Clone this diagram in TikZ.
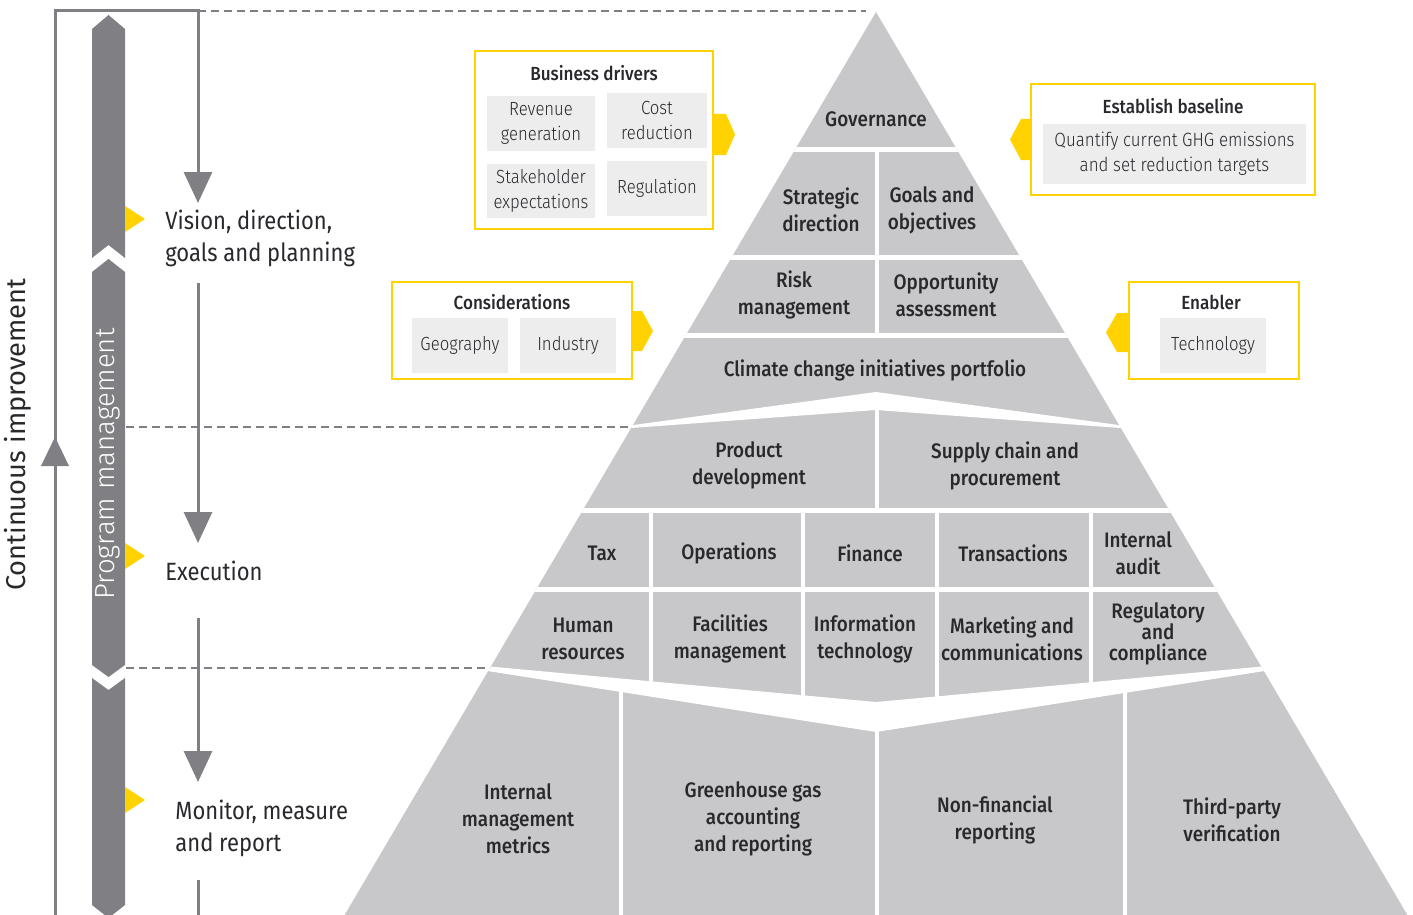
\documentclass[tikz,border=0pt]{standalone}
\usepackage{fontspec}
\setmainfont{Fira Sans}[FakeStretch=0.88]
\newfontfamily\medfont{Fira Sans Medium}[FakeStretch=0.9]
\newfontfamily\lightfont{Fira Sans Light}[FakeStretch=0.88]
\newfontfamily\lightplain{Fira Sans Light}
\newfontfamily\regplain{Fira Sans}
\usetikzlibrary{arrows.meta}
\definecolor{pyr}{RGB}{200,200,202}
\definecolor{barc}{RGB}{128,127,132}
\definecolor{eyy}{RGB}{255,210,0}
\definecolor{inbox}{RGB}{237,237,237}
\definecolor{txt}{RGB}{40,40,45}
\begin{document}
\begin{tikzpicture}[x=0.5pt,y=-0.5pt,
  pt/.style={font=\medfont\fontsize{10.5}{13.5}\selectfont, text=txt, align=center, inner sep=0pt},
  lbl/.style={font=\fontsize{12.5}{16}\selectfont, text=txt, align=left, anchor=west, inner sep=0pt},
  btitle/.style={font=\medfont\fontsize{9.5}{12}\selectfont, text=txt, inner sep=0pt},
  gbox/.style={fill=inbox, align=center, font=\lightfont\fontsize{9.5}{12.2}\selectfont, text=txt, inner sep=0pt},
  ybox/.style={draw=eyy, line width=1.25pt, fill=white, inner sep=0pt},
  frame/.style={draw=barc, line width=1.5pt},
  arr/.style={-{Triangle[width=14pt,length=15.5pt]}},
  dashln/.style={draw=barc, line width=1.1pt, dash pattern=on 4pt off 2.5pt},
  tab/.style={fill=eyy},
]
\useasboundingbox (0,0) rectangle (1413,915);

% ---------- pyramid ----------
\begin{scope}
\clip (876,12) -- (1408,916) -- (344,916) -- cycle;
\fill[pyr] (0,0) rectangle (1413,916);
\fill[white] (500,147) rectangle (1250,152);
\fill[white] (500,255) rectangle (1250,260);
\fill[white] (500,333.3) rectangle (1250,337.7);
\fill[white] (875,147) rectangle (879,338);
\fill[white] (588,431.2) -- (876,392) -- (1164,431.2) -- (876,410) -- cycle;
\fill[white] (875,405) rectangle (879,512);
\fill[white] (400,508) rectangle (1350,513);
\fill[white] (400,587) rectangle (1350,592);
\fill[white] (649,508) rectangle (653,690);
\fill[white] (801,508) rectangle (805,708);
\fill[white] (935,508) rectangle (939,709);
\fill[white] (1089,508) rectangle (1093,690);
\fill[white] (415,659.6) -- (876,702) -- (1337,659.6) -- (876,732) -- cycle;
\fill[white] (619,685) rectangle (623,916);
\fill[white] (875,725) rectangle (879,916);
\fill[white] (1123,685) rectangle (1127,916);
\end{scope}

% pyramid texts
\node[pt] (gov) at (876,119) {Governance};
\node[pt] (strat) at (821,210) {Strategic\\direction};
\node[pt] (goals) at (932,210) {Goals and\\objectives};
\node[pt] (risk) at (794,295) {Risk\\management};
\node[pt] (opp) at (946,295) {Opportunity\\assessment};
\node[pt] (cci) at (875,370) {Climate change initiatives portfolio};
\node[pt] (prod) at (749,465.5) {Product\\development};
\node[pt] (supply) at (1005,465.5) {Supply chain and\\procurement};
\node[pt] (tax) at (602,553) {Tax};
\node[pt] (ops) at (729,553) {Operations};
\node[pt] (fin) at (870,553) {Finance};
\node[pt] (trans) at (1013,553) {Transactions};
\node[pt] (audit) at (1138,553.5) {Internal\\audit};
\node[pt] (hr) at (583,638.5) {Human\\resources};
\node[pt] (fac) at (730,638.5) {Facilities\\management};
\node[pt] (it) at (865,638.5) {Information\\technology};
\node[pt] (mkt) at (1012,638.5) {Marketing and\\communications};
\node[pt, font=\medfont\fontsize{10.5}{10.5}\selectfont] (regc) at (1158,634) {Regulatory\\and\\compliance};
\node[pt] (imm) at (518,819) {Internal\\management\\metrics};
\node[pt] (ghg) at (753,819) {Greenhouse gas\\accounting\\and reporting};
\node[pt] (nonfin) at (995,819.5) {Non-financial\\reporting};
\node[pt] (third) at (1232,819.5) {Third-party\\verification};

% ---------- boxes ----------
% Business drivers
\fill[tab] (713,114) -- (726,114) -- (735,134.5) -- (726,155) -- (713,155) -- cycle;
\node[ybox, minimum width=119pt, minimum height=89pt] (bd) at (594,140) {};
\node[btitle] (bdt) at (594,73) {Business drivers};
\node[gbox, minimum width=54pt, minimum height=27.5pt] (rev) at (541,123.5) {Revenue\\generation};
\node[gbox, minimum width=50pt, minimum height=27.5pt] (cost) at (657,120.5) {Cost\\reduction};
\node[gbox, minimum width=54pt, minimum height=27pt] (stake) at (541,191) {Stakeholder\\expectations};
\node[gbox, minimum width=50pt, minimum height=27.5pt] (reg) at (657,188.5) {Regulation};

% Establish baseline
\fill[tab] (1031,119) -- (1021,119) -- (1010,139.5) -- (1021,160) -- (1031,160) -- cycle;
\node[ybox, minimum width=142pt, minimum height=55.5pt] (est) at (1173,139.5) {};
\node[btitle] (estt) at (1173,106) {Establish baseline};
\node[gbox, minimum width=131.5pt, minimum height=30pt, font=\lightfont\fontsize{9.6}{12.6}\selectfont] (quant) at (1174.5,154) {Quantify current GHG emissions\\and set reduction targets};

% Considerations
\fill[tab] (632,311) -- (642,311) -- (653,331) -- (642,351) -- (632,351) -- cycle;
\node[ybox, minimum width=120pt, minimum height=48.5pt] (cons) at (512,330.5) {};
\node[btitle] (const) at (512,302) {Considerations};
\node[gbox, minimum width=48pt, minimum height=27.5pt] (geo) at (460,345.5) {Geography};
\node[gbox, minimum width=48pt, minimum height=27.5pt] (ind) at (568,345.5) {Industry};

% Enabler
\fill[tab] (1129,313) -- (1117,313) -- (1106,332.5) -- (1117,352) -- (1129,352) -- cycle;
\node[ybox, minimum width=85pt, minimum height=48.5pt] (enab) at (1214,330.5) {};
\node[btitle] (enabt) at (1211,302) {Enabler};
\node[gbox, minimum width=53pt, minimum height=27.5pt] (tech) at (1213,345.5) {Technology};

% ---------- left side ----------
\coordinate (fbot) at (55,916);
\coordinate (ftl) at (55,11);
\coordinate (ftr) at (198,11);
\coordinate (a1) at (198,203);
\coordinate (a2s) at (198,283);
\coordinate (a2e) at (198,543);
\coordinate (a3s) at (198,618);
\coordinate (a3e) at (198,782);
\coordinate (a4s) at (198,880);
\coordinate (a4e) at (198,916);
\coordinate (dtop) at (866,11);
\coordinate (d1a) at (126,427);
\coordinate (d1b) at (630,427);
\coordinate (d2a) at (126,668);
\coordinate (d2b) at (490,668);

\draw[dashln] (ftr) -- (dtop);
\draw[dashln] (d1a) -- (d1b);
\draw[dashln] (d2a) -- (d2b);

\draw[frame, arr, line join=miter] (fbot) -- (ftl) -- (ftr) -- (a1);
\draw[frame, arr] (a2s) -- (a2e);
\draw[frame, arr] (a3s) -- (a3e);
\draw[frame] (a4s) -- (a4e);
\fill[barc] (55,437) -- (69,466) -- (41,466) -- cycle;

% program management bar
\fill[barc] (92,29) -- (108.5,15) -- (125,29) -- (125,258) -- (108.5,245) -- (92,258) -- cycle;
\fill[barc] (92,272) -- (108.5,259) -- (125,272) -- (125,665) -- (108.5,677) -- (92,665) -- cycle;
\fill[barc] (92,678) -- (108.5,690) -- (125,678) -- (125,905) -- (108.5,918) -- (92,905) -- cycle;
\node[rotate=90, font=\lightplain\fontsize{13.8}{13.8}\selectfont, text=white, inner sep=0pt] (pm) at (108,464) {Program management};
\node[rotate=90, font=\regplain\fontsize{13.6}{13.6}\selectfont, text=txt, inner sep=0pt] (ci) at (18,435) {Continuous improvement};

\fill[eyy] (125,206) -- (145,219) -- (125,232) -- cycle;
\fill[eyy] (125,543) -- (145,556) -- (125,569) -- cycle;
\fill[eyy] (125,787) -- (145,800) -- (125,813) -- cycle;

\node[lbl] (vision) at (165,238) {Vision, direction,\\goals and planning};
\node[lbl] (exec) at (165,571) {Execution};
\node[lbl] (mon) at (175,828) {Monitor, measure\\and report};
\end{tikzpicture}
\end{document}
